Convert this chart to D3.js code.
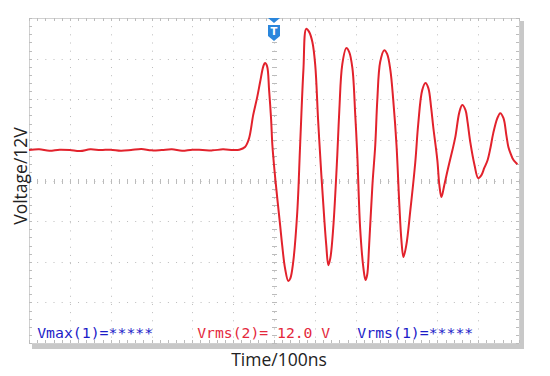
<!DOCTYPE html>
<html>
<head>
<meta charset="utf-8">
<script src="https://cdn.jsdelivr.net/npm/d3@7"></script>
<style>
body{margin:0;background:#fff;}
svg{display:block;}
</style>
</head>
<body>
<svg width="550" height="376"></svg>
<script>
// waveform: time in ns (trigger at 0), voltage in V
var timeNs = [-600,-575,-550,-525,-500,-475,-450,-425,-400,-375,-350,-325,-300,-275,-250,-225,-200,-175,-150,-125,-100,-85,
	-71,-61,-51,-41,-34,-26,-22,-17,-12,-7,-4,3,15,20,27,35,40,47,57,64,72,79,86,94,101,108,116,123,128,133,138,145,155,160,167,
	177,184,192,199,204,211,219,224,228,233,241,248,253,260,270,277,285,292,300,307,312,317,324,334,346,353,363,
	371,378,385,390,400,405,410,417,427,437,444,454,461,469,474,481,491,500,508,515,523,530,537,547,554,562,569,574,579,584,591,596];
var voltage = [9.0,9.2,8.8,9.1,9.0,8.7,9.2,9.0,9.1,8.8,9.0,9.3,8.9,9.0,9.2,8.8,9.1,9.0,8.9,9.2,9.0,9.1,
	9.9,12.5,19.3,24.7,29.1,33.8,34.7,33.8,26.7,17.9,10.5,0.7,-13.2,-19.1,-25.9,-29.7,-28.9,-24.1,-9.3,10.5,32.6,44.8,43.9,40.9,34.1,17.9,1.6,-11.1,-19.1,-25.0,-22.9,-14.1,7.5,20.8,34.1,
	39.1,38.0,33.2,19.3,7.5,-14.1,-25.9,-29.4,-28.0,-19.1,-1.4,10.5,23.8,35.0,38.5,37.4,32.6,23.8,10.5,-7.3,-17.6,-22.6,-19.1,-8.7,5.4,16.4,26.7,
	28.8,27.3,21.4,15.8,6.0,-1.4,-4.9,-1.4,4.0,9.0,12.8,20.2,22.3,20.8,17.3,11.1,4.6,0.7,1.6,3.7,6.0,9.6,14.0,18.4,19.9,18.4,13.4,9.9,8.1,6.6,5.4,4.8];

var timeDivs = [-500,-400,-300,-200,-100,0,100,200,300,400,500];
var voltDivs = [-36,-24,-12,0,12,24,36];
var readouts = [
	{text:"Vmax(1)=*****", t:-580, len:116, color:"#1c1cc8"},
	{text:"Vrms(2)= 12.0 V", t:-188, len:133, color:"#e4283c"},
	{text:"Vrms(1)=*****", t:204, len:116, color:"#1c1cc8"}
];

var svg = d3.select("svg");
var pL = 29, pR = 519, pT = 18, pB = 343;
var x = d3.scaleLinear().domain([-600,600]).range([pL,pR]);
var y = d3.scaleLinear().domain([-48,48]).range([pB,pT]);
var minor = (pR-pL)/60;

// shadow on the right and bottom of the screen
svg.append("rect").attr("x", pL+3).attr("y", pT+3).attr("width", pR-pL+2).attr("height", pB-pT+3)
	.style("fill", "#c8c8c8");
svg.append("rect").attr("x", pL+0.5).attr("y", pT+0.5).attr("width", pR-pL).attr("height", pB-pT)
	.style("fill", "#fff").style("stroke", "#d0d0d0").style("stroke-width", 1);

var grid = svg.append("g").style("stroke", "#bcbcbc").style("stroke-width", 1);
grid.selectAll("line.v").data(timeDivs).enter().append("line")
	.attr("x1", function(d){return Math.round(x(d))+0.5}).attr("x2", function(d){return Math.round(x(d))+0.5})
	.attr("y1", pT).attr("y2", pB)
	.style("stroke-dasharray", "1," + (minor-1).toFixed(2));
grid.selectAll("line.h").data(voltDivs).enter().append("line")
	.attr("y1", function(d){return Math.round(y(d))+0.5}).attr("y2", function(d){return Math.round(y(d))+0.5})
	.attr("x1", pL).attr("x2", pR)
	.style("stroke-dasharray", "1," + (minor-1).toFixed(2));

// small ticks on the centre cross and inside the border
var tTicks = d3.range(-600, 601, 20), vTicks = d3.range(-48, 49, 2.4);
var ticks = svg.append("g").style("stroke", "#bcbcbc").style("stroke-width", 1);
function hTicks(yy, a, b){
	ticks.selectAll(null).data(tTicks).enter().append("line")
		.attr("x1", function(d){return Math.round(x(d))+0.5}).attr("x2", function(d){return Math.round(x(d))+0.5})
		.attr("y1", yy+a).attr("y2", yy+b);
}
function vTicksAt(xx, a, b){
	ticks.selectAll(null).data(vTicks).enter().append("line")
		.attr("y1", function(d){return Math.round(y(d))+0.5}).attr("y2", function(d){return Math.round(y(d))+0.5})
		.attr("x1", xx+a).attr("x2", xx+b);
}
hTicks(Math.round(y(0)), -2, 3);
vTicksAt(Math.round(x(0)), -2, 3);
hTicks(pT, 0, 3);
hTicks(pB, -3, 0);
vTicksAt(pL, 0, 3);
vTicksAt(pR, -3, 0);

// trace
var pts = timeNs.map(function(t, i){return [t, voltage[i]]});
var line = d3.line().x(function(d){return x(d[0])}).y(function(d){return y(d[1])}).curve(d3.curveCatmullRom.alpha(0.5));
svg.append("path").datum(pts).attr("d", line)
	.style("fill", "none").style("stroke", "#e2222c").style("stroke-width", 2).style("stroke-linejoin", "round");

// trigger marker
var tx = x(0);
var trig = svg.append("g").style("fill", "#2a86dc");
trig.append("path").attr("d", "M"+(tx-6)+","+pT+"h12l-6,5z");
trig.append("path").attr("d", "M"+(tx-6)+","+(pT+7)+"h12v11l-6,5l-6,-5z");
trig.append("text").attr("x", tx).attr("y", pT+17).attr("text-anchor", "middle")
	.style("fill", "#fff").style("font", "bold 10px 'DejaVu Sans'").text("T");

// readouts at the bottom of the screen
svg.selectAll("text.ro").data(readouts).enter().append("text")
	.attr("x", function(d){return x(d.t)}).attr("y", 338)
	.attr("textLength", function(d){return d.len}).attr("lengthAdjust", "spacingAndGlyphs")
	.style("fill", function(d){return d.color})
	.style("font", "14px 'DejaVu Sans Mono'").text(function(d){return d.text});

// axis titles
svg.append("text").attr("x", 279).attr("y", 366).attr("text-anchor", "middle")
	.style("font", "17.5px 'Open Sans'").style("fill", "#222").text("Time/100ns");
svg.append("text").attr("transform", "translate(27,176) rotate(-90)").attr("text-anchor", "middle")
	.style("font", "17.5px 'Open Sans'").style("fill", "#222").text("Voltage/12V");
</script>
</body>
</html>
